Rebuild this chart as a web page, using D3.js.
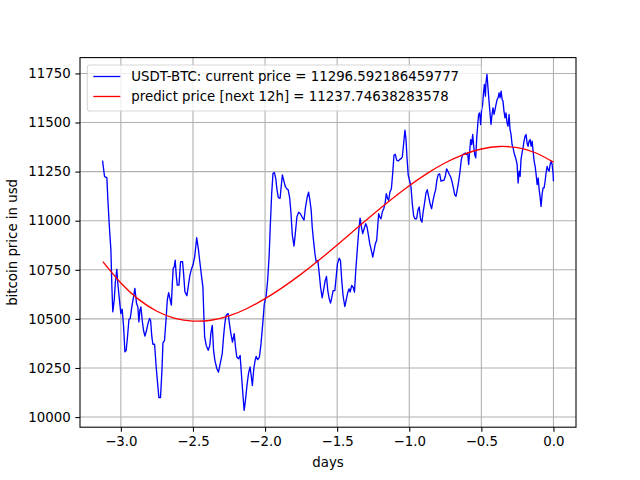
<!DOCTYPE html>
<html>
<head>
<meta charset="utf-8">
<script src="https://cdn.jsdelivr.net/npm/d3@7"></script>
<style>
  body { margin: 0; background: #fff; }
  svg { font-family: "DejaVu Sans", sans-serif; }
</style>
</head>
<body>
<div class="visHolder"></div>
<script>
// price history (days before now, usd)
let days = [
  -3.127, -3.113, -3.104, -3.097, -3.090, -3.081, -3.069, -3.063, -3.056, -3.046,
  -3.039, -3.028, -3.021, -3.012, -3.000, -2.991, -2.981, -2.972, -2.963, -2.954,
  -2.944, -2.935, -2.924, -2.912, -2.903, -2.891, -2.882, -2.875, -2.868, -2.861,
  -2.852, -2.843, -2.833, -2.822, -2.812, -2.801, -2.794, -2.785, -2.778, -2.766,
  -2.755, -2.743, -2.736, -2.725, -2.715, -2.708, -2.697, -2.687, -2.678, -2.669,
  -2.660, -2.650, -2.643, -2.637, -2.630, -2.623, -2.616, -2.609, -2.597, -2.586,
  -2.572, -2.565, -2.556, -2.542, -2.530, -2.521, -2.509, -2.500, -2.488, -2.474,
  -2.463, -2.451, -2.440, -2.431, -2.424, -2.419,
  -2.408, -2.394, -2.383, -2.376, -2.366, -2.357, -2.348, -2.334, -2.323, -2.311,
  -2.297, -2.288, -2.279, -2.270, -2.256, -2.247, -2.237, -2.226, -2.214, -2.205,
  -2.196, -2.184, -2.173, -2.164, -2.154, -2.145, -2.136, -2.124, -2.115, -2.104,
  -2.095, -2.088, -2.078, -2.069, -2.062, -2.051, -2.039, -2.028, -2.016, -2.005,
  -1.993, -1.982, -1.972, -1.963, -1.954, -1.945, -1.935, -1.926, -1.917, -1.908,
  -1.896, -1.887, -1.880, -1.871, -1.859, -1.848, -1.839, -1.829, -1.820, -1.811,
  -1.799, -1.788, -1.779, -1.767, -1.756, -1.744, -1.730, -1.719, -1.707, -1.698,
  -1.689, -1.680, -1.673, -1.664, -1.654, -1.645, -1.634, -1.624, -1.615, -1.604,
  -1.595, -1.583, -1.574, -1.565, -1.555, -1.546, -1.537, -1.528, -1.516, -1.507,
  -1.498, -1.486, -1.477, -1.468, -1.459, -1.447, -1.438, -1.426, -1.417, -1.410,
  -1.399, -1.389, -1.380, -1.371, -1.359, -1.350, -1.341, -1.332, -1.323, -1.313,
  -1.302, -1.293, -1.283, -1.274, -1.263, -1.253, -1.244, -1.235, -1.226, -1.219,
  -1.212, -1.205, -1.196, -1.187, -1.177, -1.168, -1.159, -1.150, -1.143, -1.134,
  -1.124, -1.115, -1.106, -1.097, -1.087, -1.076, -1.067, -1.057, -1.048, -1.039,
  -1.030, -1.023, -1.016, -1.007, -0.998, -0.988, -0.979, -0.970, -0.961, -0.949,
  -0.940, -0.931,
  -0.921, -0.912, -0.903, -0.894, -0.884, -0.875, -0.866, -0.854, -0.845, -0.836,
  -0.826, -0.817, -0.808, -0.799, -0.789, -0.780, -0.771, -0.759, -0.750, -0.741,
  -0.732, -0.722, -0.713, -0.704, -0.694, -0.685, -0.676, -0.667, -0.657, -0.648,
  -0.639, -0.630, -0.620, -0.611, -0.604, -0.595, -0.588, -0.581, -0.574, -0.567,
  -0.560, -0.553, -0.546, -0.539, -0.532, -0.525, -0.519, -0.512, -0.505, -0.498,
  -0.491, -0.486, -0.479, -0.472, -0.468, -0.461, -0.454, -0.447, -0.440, -0.433,
  -0.426, -0.419, -0.412, -0.405, -0.398, -0.391, -0.384, -0.377, -0.370, -0.363,
  -0.356, -0.350, -0.343, -0.336, -0.329, -0.322, -0.315, -0.308, -0.301, -0.294,
  -0.287, -0.280, -0.273, -0.266, -0.259, -0.252, -0.245, -0.238, -0.231, -0.225,
  -0.218, -0.211, -0.204, -0.197, -0.190, -0.183, -0.176, -0.169, -0.162, -0.155,
  -0.148, -0.141, -0.134, -0.127, -0.120, -0.113, -0.106, -0.099, -0.093, -0.086,
  -0.079, -0.072, -0.065, -0.058, -0.051, -0.044, -0.037, -0.030, -0.023, -0.016,
  -0.009, -0.002, 0.000
];

let prices = [
  11306, 11224, 11222, 11218, 11105, 10986, 10850, 10680, 10536, 10595,
  10680, 10752, 10680, 10612, 10527, 10550, 10460, 10332, 10340, 10408,
  10497, 10502, 10561, 10612, 10655, 10578, 10561, 10485, 10544, 10561,
  10493, 10442, 10412, 10442, 10476, 10502, 10493, 10408, 10371, 10371,
  10255, 10154, 10099, 10099, 10238, 10378, 10391, 10493, 10595, 10633,
  10604, 10570, 10680, 10757, 10765, 10799, 10723, 10672, 10672, 10791,
  10791, 10732, 10638, 10618, 10680, 10723, 10757, 10774, 10816, 10913,
  10859, 10782, 10714, 10663, 10510, 10408,
  10365, 10340, 10365, 10425, 10467, 10340, 10289, 10246, 10229, 10272,
  10323, 10408, 10476, 10519, 10527, 10476, 10425, 10382, 10425, 10357,
  10306, 10297, 10314, 10221, 10119, 10034, 10085, 10170, 10221, 10255,
  10204, 10161, 10246, 10289, 10309, 10292, 10306, 10374, 10476, 10578,
  10612, 10697, 10816, 10986, 11139, 11241, 11245, 11216, 11156, 11117,
  11114, 11182, 11233, 11207, 11173, 11162, 11156, 11114, 11037, 10927,
  10871, 10952, 11020, 11043, 11037, 11020, 11003, 11071, 11122, 11145,
  11104, 11053, 10968, 10900, 10831, 10789, 10797, 10729, 10661, 10607,
  10644, 10695, 10716, 10644, 10602, 10580, 10610, 10644, 10644, 10712,
  10780, 10809, 10797, 10695, 10619, 10563, 10593, 10636, 10653, 10636,
  10670, 10661, 10636, 10746, 10866, 10951, 11013, 10968, 10934, 10959,
  10985, 10968, 10925, 10883, 10849, 10815, 10849, 10883, 10900, 10968,
  11036, 11019, 11010, 11044, 11061, 11087, 11138, 11112, 11104, 11146,
  11163, 11240, 11333, 11338, 11308, 11304, 11311, 11316, 11325, 11393,
  11461, 11418, 11325, 11231, 11206, 11172, 11087, 11027, 11010, 11010,
  11053, 11070,
  11005, 10993, 11048, 11090, 11141, 11158, 11124, 11082, 11061, 11099,
  11133, 11158, 11209, 11235, 11238, 11201, 11204, 11206, 11226, 11264,
  11252, 11235, 11223, 11201, 11167, 11133, 11124, 11158, 11201, 11252,
  11311, 11337, 11340, 11345, 11337, 11345, 11286, 11354, 11413, 11388,
  11439, 11379, 11337, 11320, 11422, 11490, 11541, 11549, 11490, 11566,
  11592, 11643, 11694, 11634, 11702, 11745, 11677, 11609, 11549, 11490,
  11541, 11575, 11541, 11566, 11592, 11617, 11626, 11651, 11626, 11660,
  11617, 11609, 11558, 11524, 11549, 11498, 11481, 11541, 11464, 11439,
  11388, 11371, 11345, 11328, 11311, 11286, 11192, 11252, 11226, 11311,
  11345, 11371, 11405, 11430, 11439, 11396, 11379, 11405, 11413, 11379,
  11405, 11354, 11303, 11277, 11235, 11184, 11218, 11158, 11124, 11073,
  11133, 11167, 11167, 11201, 11243, 11277, 11260, 11252, 11286, 11303,
  11286, 11235, 11201
];

// fitted prediction curve
let predictDays = [
  -3.125, -3.0, -2.875, -2.75, -2.625, -2.5, -2.375, -2.25, -2.125, -2.0,
  -1.875, -1.75, -1.625, -1.5, -1.375, -1.25, -1.125, -1.0, -0.875, -0.75,
  -0.625, -0.5, -0.375, -0.25, -0.125, 0.0
];
let predictPrices = [
  10792, 10683, 10598, 10539, 10503, 10489, 10493, 10515, 10553, 10603,
  10662, 10728, 10800, 10876, 10955, 11033, 11108, 11178, 11241, 11295,
  11337, 11365, 11378, 11372, 11346, 11298
];

let xTicks = [-3.0, -2.5, -2.0, -1.5, -1.0, -0.5, 0.0];
let yTicks = [10000, 10250, 10500, 10750, 11000, 11250, 11500, 11750];
let legendLabels = [
  "USDT-BTC: current price = 11296.592186459777",
  "predict price [next 12h] = 11237.74638283578"
];
let legendColors = ["#0000ff", "#ff0000"];

let width = 640;
let height = 480;
let margin = { left: 80, right: 64, top: 57.6, bottom: 52.8 };
let plotW = width - margin.left - margin.right;
let plotH = height - margin.top - margin.bottom;

let svg = d3
  .select(".visHolder")
  .append("svg")
  .attr("width", width)
  .attr("height", height);

// matplotlib-style 5% margins
let xMin = d3.min(days.concat(predictDays));
let xMax = d3.max(days.concat(predictDays));
let yMin = d3.min(prices.concat(predictPrices));
let yMax = d3.max(prices.concat(predictPrices));
let xPad = (xMax - xMin) * 0.05;
let yPad = (yMax - yMin) * 0.05;

let xScale = d3
  .scaleLinear()
  .domain([xMin - xPad, xMax + xPad])
  .range([0, plotW]);

let yScale = d3
  .scaleLinear()
  .domain([yMin - yPad, yMax + yPad])
  .range([plotH, 0]);

let g = svg
  .append("g")
  .attr("transform", "translate(" + margin.left + "," + margin.top + ")");

// grid
g.append("g")
  .selectAll("line")
  .data(xTicks)
  .enter()
  .append("line")
  .attr("x1", (d) => xScale(d))
  .attr("x2", (d) => xScale(d))
  .attr("y1", 0)
  .attr("y2", plotH)
  .attr("stroke", "#b0b0b0")
  .attr("stroke-width", 1.07);

g.append("g")
  .selectAll("line")
  .data(yTicks)
  .enter()
  .append("line")
  .attr("x1", 0)
  .attr("x2", plotW)
  .attr("y1", (d) => yScale(d))
  .attr("y2", (d) => yScale(d))
  .attr("stroke", "#b0b0b0")
  .attr("stroke-width", 1.07);

// lines
let priceLine = d3
  .line()
  .x((d, i) => xScale(days[i]))
  .y((d) => yScale(d));

g.append("path")
  .datum(prices)
  .attr("d", priceLine)
  .attr("fill", "none")
  .attr("stroke", legendColors[0])
  .attr("stroke-width", 1.33)
  .attr("stroke-linejoin", "round");

let predictLine = d3
  .line()
  .x((d, i) => xScale(predictDays[i]))
  .y((d) => yScale(d))
  .curve(d3.curveNatural);

g.append("path")
  .datum(predictPrices)
  .attr("d", predictLine)
  .attr("fill", "none")
  .attr("stroke", legendColors[1])
  .attr("stroke-width", 1.33);

// axes
let fmtX = (d) => d.toFixed(1).replace("-", "\u2212");

let xAxis = d3
  .axisBottom(xScale)
  .tickValues(xTicks)
  .tickFormat(fmtX)
  .tickSizeInner(4.67)
  .tickSizeOuter(0)
  .tickPadding(4.67);

let yAxis = d3
  .axisLeft(yScale)
  .tickValues(yTicks)
  .tickFormat(d3.format("d"))
  .tickSizeInner(4.67)
  .tickSizeOuter(0)
  .tickPadding(4.67);

let gx = g
  .append("g")
  .attr("id", "x-axis")
  .attr("transform", "translate(0," + plotH + ")")
  .call(xAxis);

let gy = g.append("g").attr("id", "y-axis").call(yAxis);

[gx, gy].forEach(function (ax) {
  ax.select(".domain").remove();
  ax.selectAll(".tick line").attr("stroke", "#000").attr("stroke-width", 1.07);
  ax.selectAll(".tick text")
    .attr("fill", "#000")
    .style("font-size", "13.33px")
    .style("font-family", "DejaVu Sans");
});

// frame
g.append("rect")
  .attr("x", 0)
  .attr("y", 0)
  .attr("width", plotW)
  .attr("height", plotH)
  .attr("fill", "none")
  .attr("stroke", "#000")
  .attr("stroke-width", 1.07);

// axis labels
svg
  .append("text")
  .attr("x", margin.left + plotW / 2)
  .attr("y", 467)
  .attr("text-anchor", "middle")
  .style("font-size", "13.33px")
  .text("days");

svg
  .append("text")
  .attr("transform", "translate(17," + (margin.top + plotH / 2) + ") rotate(-90)")
  .attr("text-anchor", "middle")
  .style("font-size", "13.33px")
  .text("bitcoin price in usd");

// legend
let legend = g.append("g").attr("transform", "translate(7.3,7.4)");

legend
  .append("rect")
  .attr("width", 394)
  .attr("height", 46)
  .attr("rx", 2.5)
  .attr("fill", "#fff")
  .attr("fill-opacity", 0.8)
  .attr("stroke", "#cccccc")
  .attr("stroke-opacity", 0.8)
  .attr("stroke-width", 1.07);

legend
  .selectAll(".entry")
  .data(legendLabels)
  .enter()
  .append("g")
  .attr("class", "entry")
  .attr("transform", (d, i) => "translate(0," + (11.5 + i * 20) + ")")
  .each(function (d, i) {
    let e = d3.select(this);
    e.append("line")
      .attr("x1", 6)
      .attr("x2", 33)
      .attr("stroke", legendColors[i])
      .attr("stroke-width", 1.33);
    e.append("text")
      .attr("x", 44)
      .attr("dy", "0.35em")
      .style("font-size", "13.33px")
      .text(d);
  });
</script>
</body>
</html>
